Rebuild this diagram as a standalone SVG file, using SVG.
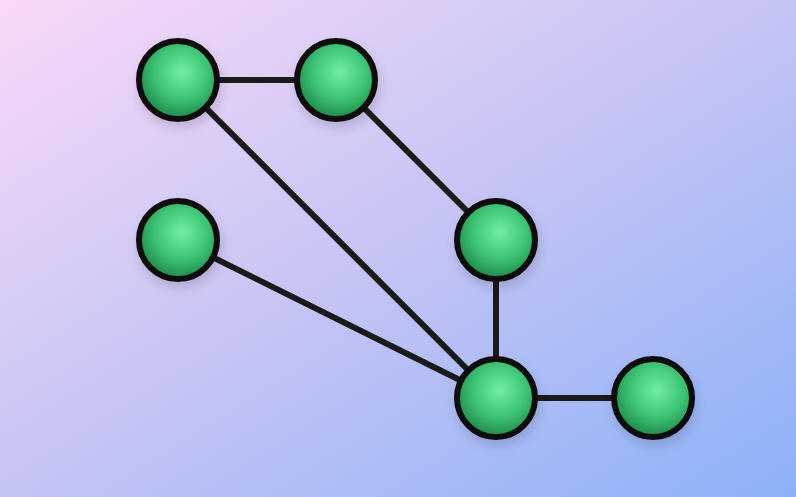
<svg xmlns="http://www.w3.org/2000/svg" width="796" height="497" viewBox="0 0 796 497">
<defs>
<linearGradient id="bg" x1="0" y1="0" x2="1" y2="1">
<stop offset="0" stop-color="#f9d8f8"/>
<stop offset="0.5" stop-color="#c4c4f4"/>
<stop offset="1" stop-color="#8cb1f8"/>
</linearGradient>
<radialGradient id="g" cx="0.55" cy="0.4" r="0.6">
<stop offset="0" stop-color="#6ff0a0"/>
<stop offset="0.6" stop-color="#3bbf72"/>
<stop offset="1" stop-color="#1f8a4c"/>
</radialGradient>
<filter id="sh" x="-50%" y="-50%" width="200%" height="200%">
<feGaussianBlur in="SourceAlpha" stdDeviation="6"/>
<feOffset dx="2" dy="6"/>
<feComponentTransfer><feFuncA type="linear" slope="0.15"/></feComponentTransfer>
<feMerge><feMergeNode/><feMergeNode in="SourceGraphic"/></feMerge>
</filter>
</defs>
<style>
.n{fill:url(#g);stroke:#0d0d0d;stroke-width:6;filter:url(#sh)}
.e{stroke:#1a1a1a;stroke-width:6;stroke-linecap:round}
</style>
<rect width="796" height="497" fill="url(#bg)"/>
<g id="connectors">
<line class="e" x1="178" y1="80" x2="336" y2="80"/>
<line class="e" x1="178" y1="80" x2="496" y2="398"/>
<line class="e" x1="336" y1="80" x2="496" y2="240"/>
<line class="e" x1="178" y1="240" x2="496" y2="398"/>
<line class="e" x1="496" y1="240" x2="496" y2="398"/>
<line class="e" x1="496" y1="398" x2="653" y2="398"/>
</g>
<g id="n1"><circle class="n" cx="178" cy="80" r="39"/></g>
<g id="n2"><circle class="n" cx="336" cy="80" r="39"/></g>
<g id="n3"><circle class="n" cx="178" cy="240" r="39"/></g>
<g id="n4"><circle class="n" cx="496" cy="240" r="39"/></g>
<g id="n5"><circle class="n" cx="496" cy="398" r="39"/></g>
<g id="n6"><circle class="n" cx="653" cy="398" r="39"/></g>
</svg>
